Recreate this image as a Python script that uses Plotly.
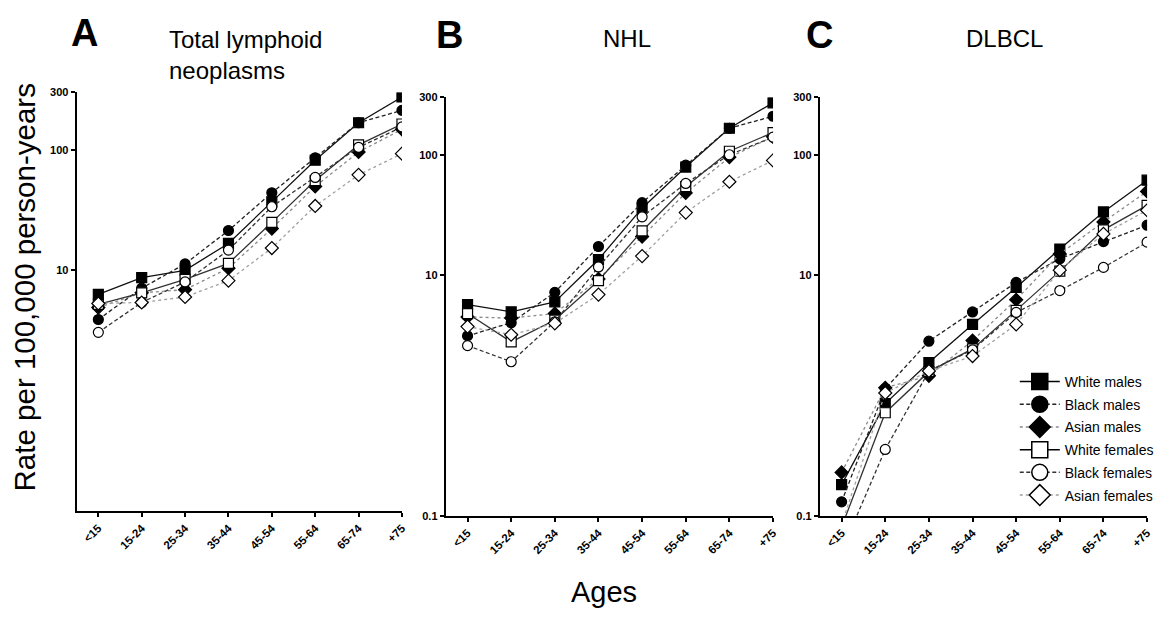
import plotly.graph_objects as go
import math

ages = ["<15", "15-24", "25-34", "35-44", "45-54", "55-64", "65-74", "+75"]
series_names = ["White males", "Black males", "Asian males",
                "White females", "Black females", "Asian females"]

# Panel A: Total lymphoid neoplasms
total_white_males = [6.3, 8.7, 10.0, 16.7, 37, 82, 168, 275]
total_black_males = [3.9, 7.1, 11.3, 21.4, 44, 86, 168, 213]
total_asian_males = [4.9, 6.5, 6.9, 10.4, 22.2, 49.7, 96, 148]
total_white_females = [5.2, 6.5, 8.4, 11.4, 25, 55.6, 110, 164]
total_black_females = [3.05, 5.4, 8.0, 14.7, 33.7, 59, 105, 155]
total_asian_females = [5.3, 5.4, 6.0, 8.2, 15.3, 34.2, 62, 93]

# Panel B: NHL
nhl_white_males = [5.7, 4.96, 6.0, 13.5, 36, 79, 166, 270]
nhl_black_males = [3.13, 4.03, 7.2, 17.3, 40, 82, 166, 209]
nhl_asian_males = [4.5, 4.4, 4.8, 9.3, 20.9, 48.2, 95.5, 141]
nhl_white_females = [4.8, 2.79, 4.24, 9.0, 23.3, 54.3, 107, 153]
nhl_black_females = [2.6, 1.91, 4.1, 11.7, 30.5, 57.8, 100, 140]
nhl_asian_females = [3.74, 3.2, 3.98, 6.9, 14.4, 33.1, 59.7, 89.8]

# Panel C: DLBCL
dlbcl_white_males = [0.182, 0.857, 1.88, 3.9, 7.9, 16.5, 33.5, 61.5]
dlbcl_black_males = [0.131, 1.14, 2.83, 4.95, 8.7, 13.7, 19, 26]
dlbcl_asian_males = [0.23, 1.16, 1.46, 2.86, 6.25, 15, 27.7, 49.6]
dlbcl_white_females = [0.081, 0.72, 1.58, 2.44, 5.1, 10.8, 23.8, 38]
dlbcl_black_females = [0.051, 0.357, 1.6, 2.4, 4.9, 7.45, 11.6, 18.8]
dlbcl_asian_females = [0.085, 1.05, 1.6, 2.13, 3.9, 11, 22, 34.6]

panels = [
    [total_white_males, total_black_males, total_asian_males,
     total_white_females, total_black_females, total_asian_females],
    [nhl_white_males, nhl_black_males, nhl_asian_males,
     nhl_white_females, nhl_black_females, nhl_asian_females],
    [dlbcl_white_males, dlbcl_black_males, dlbcl_asian_males,
     dlbcl_white_females, dlbcl_black_females, dlbcl_asian_females],
]

DASH = "4px,2.5px"
styles = [
    dict(symbol="square", fill="black", lcolor="#111111", dash="solid"),
    dict(symbol="circle", fill="black", lcolor="#222222", dash=DASH),
    dict(symbol="diamond", fill="black", lcolor="#8a8a8a", dash="dot"),
    dict(symbol="square", fill="white", lcolor="#333333", dash="solid"),
    dict(symbol="circle", fill="white", lcolor="#333333", dash=DASH),
    dict(symbol="diamond", fill="white", lcolor="#a0a0a0", dash="dot"),
]

# the page body has an 8px margin; figure sized to fit the window
OFF = 8
FW, FH = 1171 - OFF, 620 - OFF
FONT = "Liberation Sans, Arial, sans-serif"


def px(x):
    return (x - OFF) / FW


def py(y):
    return 1 - (y - OFF) / FH


# plot areas in window pixels (left, right, top, bottom)
areas = [(77, 404, 88, 515), (448, 777, 93, 520), (824, 1153, 93, 520)]

fig = go.Figure()

for p, data in enumerate(panels):
    suffix = "" if p == 0 else str(p + 1)
    for i, vals in enumerate(data):
        st = styles[i]
        fig.add_trace(go.Scatter(
            x=list(range(len(ages))), y=vals, mode="lines+markers",
            name=series_names[i], showlegend=False, legendgroup=series_names[i],
            xaxis="x" + suffix, yaxis="y" + suffix,
            line=dict(color=st["lcolor"], width=1.3, dash=st["dash"]),
            marker=dict(symbol=st["symbol"], size=10, color=st["fill"],
                        line=dict(color="black", width=1.2)),
        ))

# legend-only entries (larger symbols like the reference legend)
for i, name in enumerate(series_names):
    st = styles[i]
    fig.add_trace(go.Scatter(
        x=[None], y=[None], mode="lines+markers", name=name,
        legendgroup=name, xaxis="x3", yaxis="y3", showlegend=True,
        line=dict(color=st["lcolor"] if st["dash"] != "solid" else "black",
                  width=1.5, dash=st["dash"]),
        marker=dict(symbol=st["symbol"], size=18, color=st["fill"],
                    line=dict(color="black", width=1.5)),
    ))

minor_vals = []
for k in (-1, 0, 1, 2):
    for m in range(1, 10):
        v = m * 10 ** k
        if v <= 300:
            minor_vals.append(v)

layout = dict(
    width=FW, height=FH, paper_bgcolor="white", plot_bgcolor="white",
    margin=dict(l=0, r=0, t=0, b=0),
    font=dict(family=FONT, color="black"),
    showlegend=True,
    legend=dict(x=px(1020), y=py(367), xanchor="left", yanchor="top",
                font=dict(size=14, family=FONT), bgcolor="rgba(0,0,0,0)",
                itemwidth=40, tracegroupgap=1.5, traceorder="grouped"),
)

for p, (l, r, t, b) in enumerate(areas):
    suffix = "" if p == 0 else str(p + 1)
    if p == 0:
        tickvals = [10, 100, 300]
        ticktext = ["10", "100", "300"]
    else:
        tickvals = [0.1, 10, 100, 300]
        ticktext = ["0.1", "10", "100", "300"]
    yr = [-1, math.log10(300)]
    layout["xaxis" + suffix] = dict(
        domain=[px(l), px(r)], anchor="y" + suffix,
        range=[-0.5, 7], tickmode="array", tickvals=list(range(len(ages))),
        ticktext=ages, tickangle=-45, showgrid=False, zeroline=False,
        showline=True, linecolor="black", linewidth=2,
        ticks="outside", ticklen=4, tickwidth=1.5, tickcolor="black",
        tickfont=dict(size=11.5, family=FONT, weight="bold"),
    )
    layout["yaxis" + suffix] = dict(
        domain=[py(b), py(t)], anchor="x" + suffix,
        type="log", range=yr,
        tickmode="array", tickvals=tickvals, ticktext=ticktext,
        showgrid=False, zeroline=False,
        showline=True, linecolor="black", linewidth=2,
        ticks="outside", ticklen=4, tickwidth=1.5, tickcolor="black",
        tickfont=dict(size=11, family=FONT, weight="bold"),
    )
    # minor ticks via an overlaid axis
    layout["yaxis" + str(p + 4)] = dict(
        overlaying="y" + suffix, anchor="x" + suffix, side="left",
        type="log", range=yr, tickmode="array", tickvals=minor_vals,
        showticklabels=False, showgrid=False, zeroline=False, showline=False,
        ticks="outside", ticklen=3, tickwidth=1, tickcolor="black",
    )

fig.update_layout(**layout)

annotations = [
    dict(text="<b>A</b>", x=85, y=27, size=38),
    dict(text="<b>B</b>", x=452, y=29, size=38),
    dict(text="<b>C</b>", x=824, y=29, size=38),
    dict(text="Total lymphoid<br>neoplasms", x=168, y=50, size=24,
         xanchor="left", align="left"),
    dict(text="NHL", x=630, y=33, size=24),
    dict(text="DLBCL", x=1010, y=33, size=24),
    dict(text="Ages", x=607, y=598, size=29),
    dict(text="Rate per 100,000 person-years", x=25, y=287, size=29.5,
         textangle=-90),
]
ann = []
for a in annotations:
    ann.append(dict(
        text=a["text"], x=px(a["x"]), y=py(a["y"]), xref="paper", yref="paper",
        xanchor=a.get("xanchor", "center"), yanchor="middle",
        align=a.get("align", "center"), textangle=a.get("textangle", 0),
        showarrow=False, font=dict(size=a["size"], family=FONT, color="black"),
    ))
fig.update_layout(annotations=ann)

fig.write_html("out.html")
